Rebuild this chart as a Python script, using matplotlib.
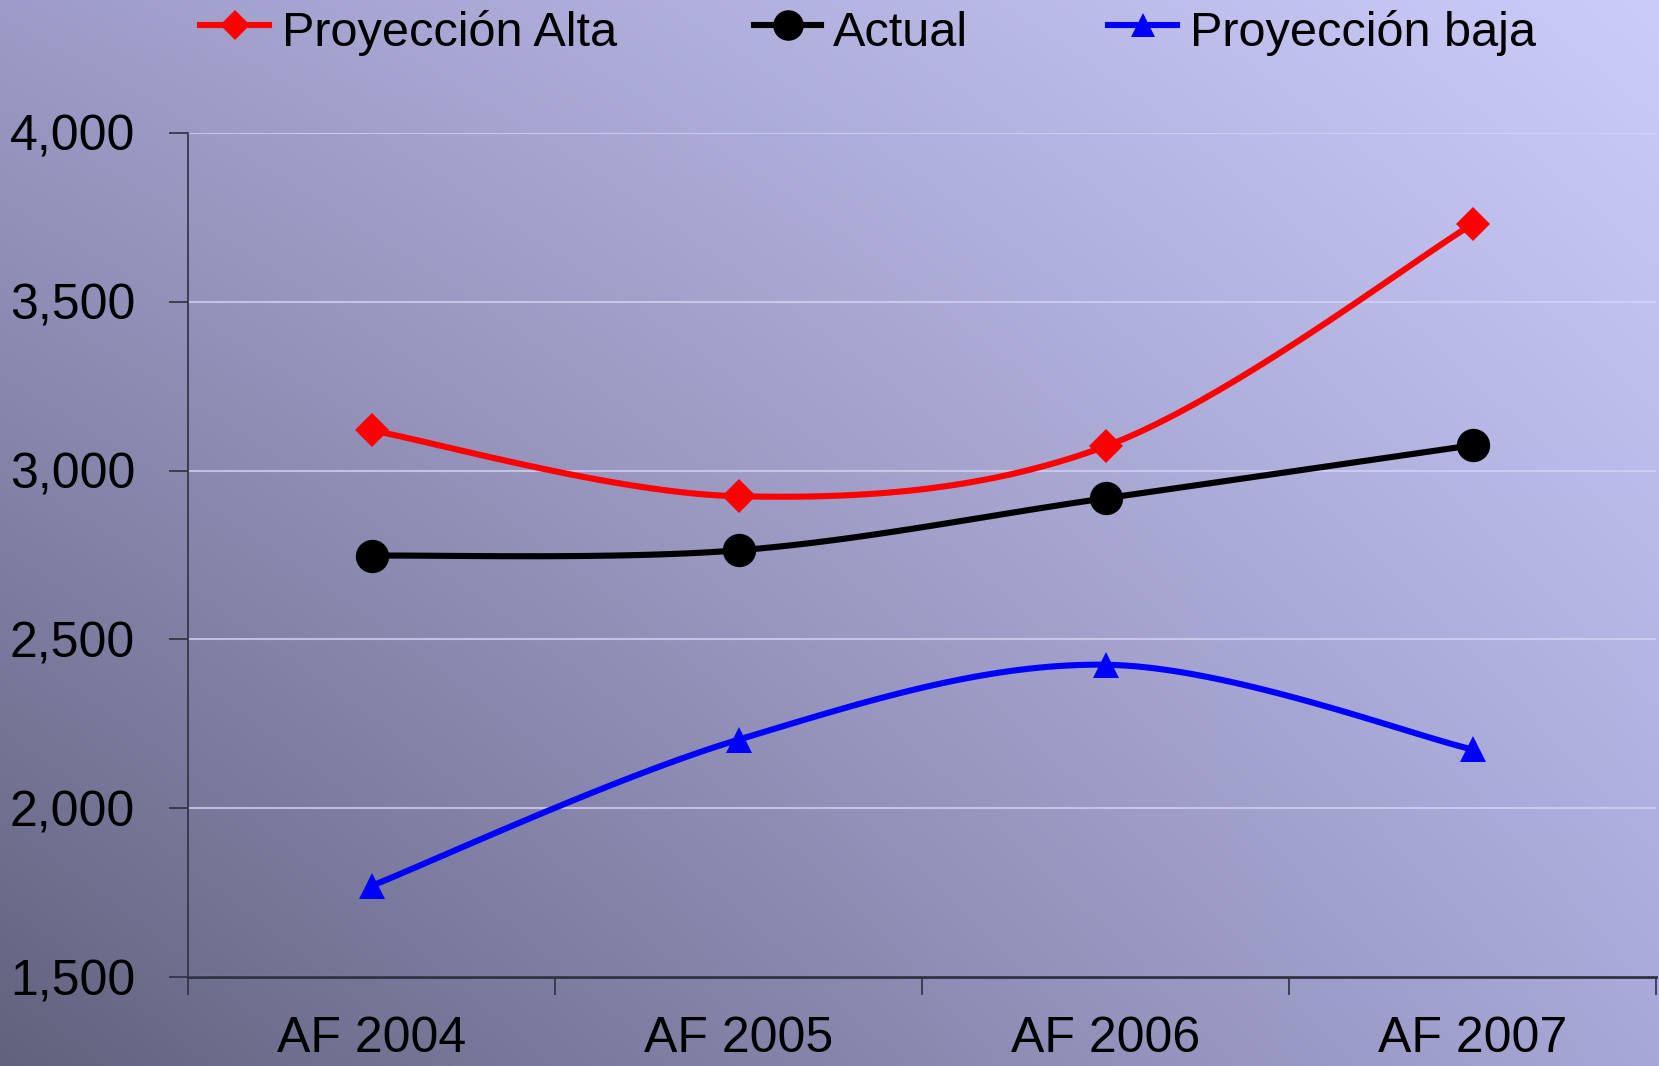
import numpy as np
import matplotlib
matplotlib.use("Agg")
import matplotlib.pyplot as plt
from matplotlib.lines import Line2D
from matplotlib.ticker import FuncFormatter, FixedLocator

# chart data
categories = ["AF 2004", "AF 2005", "AF 2006", "AF 2007"]
proy_alta = [3119, 2924, 3072, 3730]
actual = [2748, 2764, 2918, 3075]
proy_baja = [1770, 2203, 2425, 2174]
series_names = ["Proyección Alta", "Actual", "Proyección baja"]
y_ticks = [1500, 2000, 2500, 3000, 3500, 4000]

plt.rcParams['font.family'] = ['Liberation Sans', 'DejaVu Sans']


def smooth(xs, ys, steps=40):
    """Excel-like smoothed line: cubic bezier with catmull-rom control points."""
    p = np.column_stack([xs, ys]).astype(float)
    n = len(p)
    out = [p[0]]
    t = np.linspace(0, 1, steps)[1:, None]
    for i in range(n - 1):
        prev = p[max(i - 1, 0)]
        nxt = p[min(i + 2, n - 1)]
        c1 = p[i] + (p[i + 1] - prev) / 6.0
        c2 = p[i + 1] - (nxt - p[i]) / 6.0
        seg = ((1 - t) ** 3) * p[i] + 3 * ((1 - t) ** 2) * t * c1 \
            + 3 * (1 - t) * t ** 2 * c2 + t ** 3 * p[i + 1]
        out.extend(seg)
    out = np.array(out)
    return out[:, 0], out[:, 1]


W, H = 1659, 1066
fig = plt.figure(figsize=(W / 100, H / 100), dpi=100)

# diagonal gradient background
bg = fig.add_axes([0, 0, 1, 1], zorder=-10)
bl = np.array([98, 98, 126]) / 255
br = np.array([168, 168, 216]) / 255
tl = np.array([157, 156, 200]) / 255
tr = np.array([204, 204, 250]) / 255
u = np.linspace(0, 1, 300)[None, :, None]
v = np.linspace(0, 1, 200)[:, None, None]
img = (1 - u) * (1 - v) * bl + u * (1 - v) * br + (1 - u) * v * tl + u * v * tr
bg.imshow(img, origin="lower", aspect="auto", extent=[0, 1, 0, 1], interpolation="bilinear")
bg.axis("off")

ax = fig.add_axes([188 / W, 1 - 977 / H, (1656 - 188) / W, (977 - 133) / H])
ax.patch.set_alpha(0)

x = np.arange(len(categories))
styles = [
    (proy_alta, "#ff0000", "D", 17),
    (actual, "#000000", "o", 24),
    (proy_baja, "#0000ff", "^", 19),
]
for vals, col, mk, ms in styles:
    sx, sy = smooth(x, vals)
    ax.plot(sx, sy, color=col, lw=4.4, solid_capstyle="round", zorder=3, clip_on=False)
    ax.plot(x, vals, linestyle="none", marker=mk, markersize=ms, color=col,
            markeredgewidth=0, zorder=4, clip_on=False)

ax.set_xlim(-0.5, len(categories) - 0.5)
ax.set_ylim(1500, 4000)

ax.set_yticks(y_ticks)
ax.yaxis.set_major_formatter(FuncFormatter(lambda v, p: f"{int(v):,}"))
ax.grid(axis="y", color="#d4d4f8", lw=1.5, alpha=0.75)
ax.set_axisbelow(True)

ax.set_xticks(x)
ax.set_xticklabels(categories)
ax.xaxis.set_minor_locator(FixedLocator(np.arange(-0.5, len(categories), 1.0)))
ax.tick_params(axis="x", which="major", length=0, pad=28, labelsize=36)
ax.tick_params(axis="x", which="minor", length=13, width=1.2, color="#303040", direction="out")
ax.tick_params(axis="y", length=14, width=1.2, color="#303040", direction="out", pad=24, labelsize=36)

for s in ["top", "right"]:
    ax.spines[s].set_visible(False)
ax.spines["left"].set_color("#303040")
ax.spines["left"].set_linewidth(1.2)
ax.spines["bottom"].set_color("#303040")
ax.spines["bottom"].set_linewidth(2)

# legend across the top
leg_items = [
    (200, 269, 282, "#ff0000", "D", 15),
    (754, 821, 833, "#000000", "o", 22),
    (1108, 1177, 1190, "#0000ff", "^", 17),
]
ly = 1 - 25 / H
for (x0, x1, tx, col, mk, ms), name in zip(leg_items, series_names):
    fig.add_artist(Line2D([x0 / W, x1 / W], [ly, ly], transform=fig.transFigure,
                          color=col, lw=4.4))
    fig.add_artist(Line2D([(x0 + x1) / 2 / W], [ly], transform=fig.transFigure,
                          color=col, marker=mk, markersize=ms, markeredgewidth=0))
    fig.text(tx / W, 1 - 46 / H, name, fontsize=35, va="baseline", ha="left", color="black")

fig.savefig("out.png", dpi=100)
